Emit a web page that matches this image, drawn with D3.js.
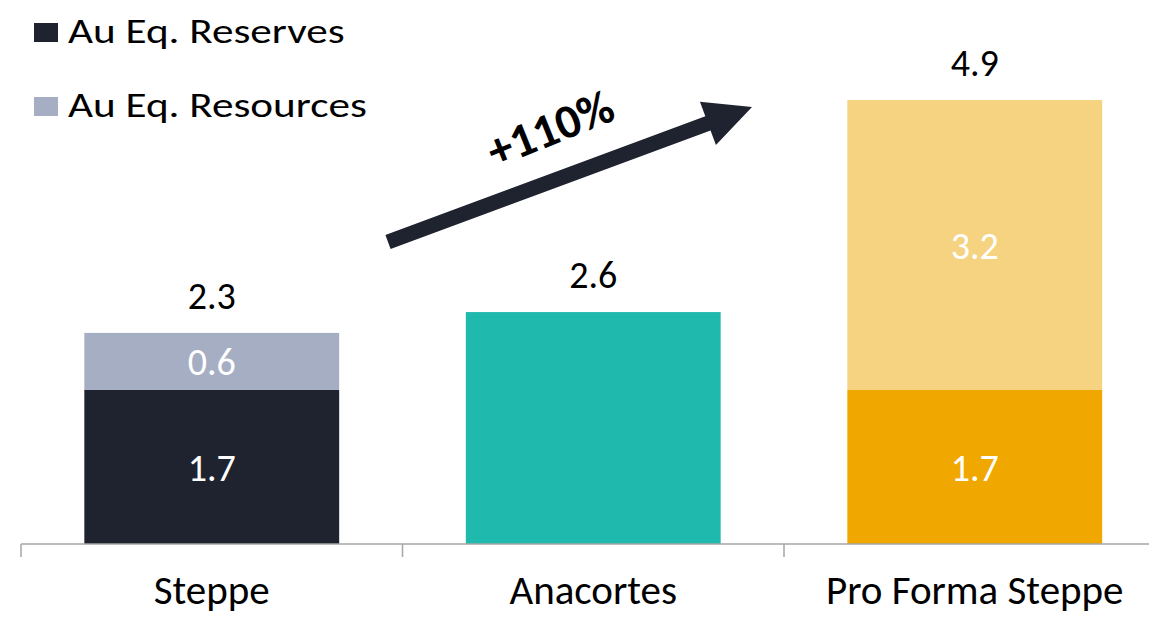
<!DOCTYPE html>
<html>
<head>
<meta charset="utf-8">
<script src="https://cdnjs.cloudflare.com/ajax/libs/d3/7.8.5/d3.min.js"></script>
<style>
  html, body { margin: 0; padding: 0; background: #fff; }
  svg { display: block; font-family: Calibri, Carlito, Lato, sans-serif; }
</style>
</head>
<body>
<svg id="chart" width="1149" height="619"></svg>
<script>
const categories = ['Steppe', 'Anacortes', 'Pro Forma Steppe'];
const reserves = [1.70, 2.56, 1.70];
const resources = [0.63, 0, 3.20];
const showInside = [true, false, true];
const reserveColors = ['#1f2330', '#20b9ad', '#f0a800'];
const resourceColors = ['#a5aec3', '#20b9ad', '#f6d381'];
const legendLabels = ['Au Eq. Reserves', 'Au Eq. Resources'];
const legendColors = ['#1f2330', '#a5aec3'];
const growthLabel = '+110%';

const svg = d3.select('#chart');
const fmt = d3.format('.1f');

const baseline = 544;
const x = d3.scaleBand()
    .domain(categories)
    .range([21, 1165.5])
    .paddingInner(0.332)
    .paddingOuter(0.166);
const y = d3.scaleLinear().domain([0, 5]).range([baseline, baseline - 5 * 90.6]);

const data = categories.map((c, i) => ({
    cat: c,
    reserves: reserves[i],
    resources: resources[i],
    total: reserves[i] + resources[i],
    inside: showInside[i],
    c1: reserveColors[i],
    c2: resourceColors[i]
}));

const bars = svg.append('g');

// bottom segment
bars.selectAll('.res')
    .data(data)
    .enter()
    .append('rect')
    .attr('class', 'res')
    .attr('x', d => x(d.cat))
    .attr('width', x.bandwidth())
    .attr('y', d => y(d.reserves))
    .attr('height', d => y(0) - y(d.reserves))
    .attr('fill', d => d.c1);

// top segment
bars.selectAll('.rsc')
    .data(data.filter(d => d.resources > 0))
    .enter()
    .append('rect')
    .attr('class', 'rsc')
    .attr('x', d => x(d.cat))
    .attr('width', x.bandwidth())
    .attr('y', d => y(d.total))
    .attr('height', d => y(d.reserves) - y(d.total))
    .attr('fill', d => d.c2);

// labels inside
const inside = data.filter(d => d.inside);
svg.selectAll('.lab-in1')
    .data(inside)
    .enter()
    .append('text')
    .attr('x', d => x(d.cat) + x.bandwidth() / 2)
    .attr('y', d => (y(0) + y(d.reserves)) / 2)
    .attr('dy', '0.36em')
    .attr('text-anchor', 'middle')
    .attr('fill', '#fff')
    .style('font-size', '38px')
    .text(d => fmt(d.reserves));

svg.selectAll('.lab-in2')
    .data(inside)
    .enter()
    .append('text')
    .attr('x', d => x(d.cat) + x.bandwidth() / 2)
    .attr('y', d => (y(d.reserves) + y(d.total)) / 2)
    .attr('dy', '0.36em')
    .attr('text-anchor', 'middle')
    .attr('fill', '#fff')
    .style('font-size', '38px')
    .text(d => fmt(d.resources));

// totals above
svg.selectAll('.lab-tot')
    .data(data)
    .enter()
    .append('text')
    .attr('x', d => x(d.cat) + x.bandwidth() / 2)
    .attr('y', d => y(d.total) - 24)
    .attr('text-anchor', 'middle')
    .attr('fill', '#000')
    .style('font-size', '38px')
    .text(d => fmt(d.total));

// x axis: line + ticks at band boundaries
const axis = svg.append('g').attr('stroke', '#a6a6a6').attr('stroke-width', 1.5);
axis.append('line')
    .attr('x1', x.range()[0])
    .attr('x2', x.range()[1])
    .attr('y1', baseline)
    .attr('y2', baseline);
axis.selectAll('.tick')
    .data(d3.range(categories.length + 1))
    .enter()
    .append('line')
    .attr('x1', i => x.range()[0] + i * x.step())
    .attr('x2', i => x.range()[0] + i * x.step())
    .attr('y1', baseline)
    .attr('y2', baseline + 13);

svg.selectAll('.cat')
    .data(categories)
    .enter()
    .append('text')
    .attr('x', d => x(d) + x.bandwidth() / 2)
    .attr('y', 604)
    .attr('text-anchor', 'middle')
    .attr('fill', '#000')
    .style('font-size', '41px')
    .text(d => d);

// legend
const legend = svg.append('g');
legendLabels.forEach((lab, i) => {
    const row = legend.append('g').attr('transform', `translate(34,${23 + i * 74})`);
    row.append('rect').attr('width', 24).attr('height', 19).attr('fill', legendColors[i]);
    row.append('text')
        .attr('transform', 'translate(34,20) scale(1.27,1)')
        .attr('fill', '#000')
        .style('font-size', '34px')
        .text(lab);
});

// growth arrow
const tail = [388, 242], tip = [752, 107];
const len = Math.hypot(tip[0] - tail[0], tip[1] - tail[1]);
const ang = Math.atan2(tip[1] - tail[1], tip[0] - tail[0]) * 180 / Math.PI;
const hl = 47, hw = 23, sw = 7.5;
svg.append('path')
    .attr('transform', `translate(${tail[0]},${tail[1]}) rotate(${ang})`)
    .attr('d', `M0,${-sw}L${len - hl},${-sw}L${len - hl},${-hw}L${len},0L${len - hl},${hw}L${len - hl},${sw}L0,${sw}Z`)
    .attr('fill', '#1f2330');

svg.append('text')
    .attr('transform', 'translate(550,128) rotate(-22)')
    .attr('dy', '0.35em')
    .attr('text-anchor', 'middle')
    .attr('fill', '#000')
    .style('font-size', '48px')
    .style('font-weight', 'bold')
    .text(growthLabel);
</script>
</body>
</html>
